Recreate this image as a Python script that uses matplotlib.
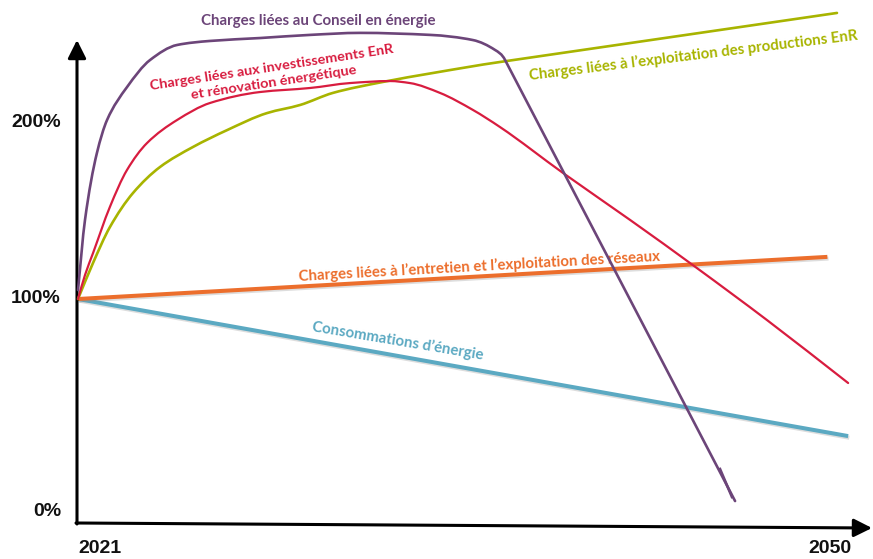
import matplotlib
matplotlib.use("Agg")
import matplotlib.pyplot as plt
import matplotlib.patheffects as pe
from matplotlib.path import Path
from matplotlib.patches import PathPatch

# --- data (years, % of 2021 level) ---
conseil_years = [2021.0, 2021.27, 2021.73, 2022.12, 2022.89, 2023.78, 2024.82, 2026.09,
                 2028.02, 2029.95, 2031.88, 2034.58, 2036.23, 2037.08, 2037.47, 2046.34]
conseil_vals = [104, 135.3, 165.2, 179.9, 194.6, 206.7, 213.4, 215.2,
                216.5, 217.9, 218.8, 217.9, 215.6, 211.2, 206.7, 9.8]
conseil_tail_years = [2045.76, 2046.22]
conseil_tail_vals = [24.1, 11.6]

invest_years = [2021.0, 2021.27, 2021.58, 2022.23, 2022.89, 2023.66, 2024.82, 2026.09,
                2028.02, 2029.95, 2031.49, 2033.03, 2033.80, 2034.96, 2036.23, 2037.27,
                2039.70, 2042.29, 2044.87, 2047.57, 2050.70]
invest_vals = [100, 110.7, 120.5, 141.1, 157.6, 169.6, 179.9, 187.5,
               192.4, 194.2, 196.4, 197.3, 196.4, 192.0, 184.4, 176.8,
               156.3, 135.3, 113.8, 90.6, 62.5]

enr_years = [2021.0, 2021.58, 2022.23, 2023.12, 2024.16, 2025.44, 2026.75, 2028.29,
             2029.56, 2030.83, 2032.76, 2034.69, 2037.27, 2050.27]
enr_vals = [100, 116.1, 132.1, 147.3, 158.9, 167.9, 175.4, 183.0,
            186.6, 192.0, 196.9, 200.9, 205.8, 227.7]

reseaux_years = [2021.0, 2049.9]
reseaux_vals = [100, 118.8]

conso_years = [2021.0, 2050.7]
conso_vals = [100, 38.8]

y_tick_labels = ["0%", "100%", "200%"]
y_tick_pos = [5, 100, 179]
x_tick_labels = ["2021", "2050"]
x_tick_pos = [2021, 2050]

# --- colours ---
c_purple = "#6C4579"
c_red = "#D81C3F"
c_green = "#A8B400"
c_orange = "#EC6E2C"
c_blue = "#5BA9C2"

W, H = 873, 559
fig = plt.figure(figsize=(W / 100, H / 100), dpi=100)
ax = fig.add_axes([0, 0, 1, 1])
ax.set_xlim(2017.992, 2051.659)
ax.set_ylim(-16.07, 233.48)
ax.axis("off")


def hermite_slopes(xs, ys):
    """Shape-preserving (Fritsch-Butland) slopes at each point."""
    n = len(xs)
    h = [xs[i + 1] - xs[i] for i in range(n - 1)]
    d = [(ys[i + 1] - ys[i]) / h[i] for i in range(n - 1)]
    m = [0.0] * n
    m[0] = d[0]
    m[-1] = d[-1]
    for k in range(1, n - 1):
        if d[k - 1] * d[k] <= 0:
            m[k] = 0.0
        else:
            w1 = 2 * h[k] + h[k - 1]
            w2 = h[k] + 2 * h[k - 1]
            m[k] = (w1 + w2) / (w1 / d[k - 1] + w2 / d[k])
    return m, d


def smooth_path(xs, ys, straight_last=False):
    """Piecewise cubic curve through the points, as Bezier segments."""
    m, d = hermite_slopes(xs, ys)
    n = len(xs)
    if straight_last:
        m[-2] = d[-1]
    verts = [(xs[0], ys[0])]
    codes = [Path.MOVETO]
    last = n - 2 if straight_last else n - 1
    for i in range(last):
        h = xs[i + 1] - xs[i]
        verts += [(xs[i] + h / 3, ys[i] + m[i] * h / 3),
                  (xs[i + 1] - h / 3, ys[i + 1] - m[i + 1] * h / 3),
                  (xs[i + 1], ys[i + 1])]
        codes += [Path.CURVE4] * 3
    if straight_last:
        verts.append((xs[-1], ys[-1]))
        codes.append(Path.LINETO)
    return Path(verts, codes)


def draw_curve(xs, ys, color, lw, z, straight_last=False):
    patch = PathPatch(smooth_path(xs, ys, straight_last), facecolor="none",
                      edgecolor=color, lw=lw, zorder=z, capstyle="round")
    ax.add_patch(patch)


shadow = [pe.SimpleLineShadow(offset=(0.8, -1.2), shadow_color="#909090", alpha=0.3),
          pe.Normal()]

ax.plot(conso_years, conso_vals, color=c_blue, lw=2.9, solid_capstyle="butt",
        path_effects=shadow, zorder=3)
ax.plot(reseaux_years, reseaux_vals, color=c_orange, lw=2.9, solid_capstyle="butt",
        path_effects=shadow, zorder=3)
draw_curve(enr_years, enr_vals, c_green, 1.9, 4, straight_last=True)
draw_curve(invest_years, invest_vals, c_red, 1.6, 4)
draw_curve(conseil_years, conseil_vals, c_purple, 1.9, 5, straight_last=True)
ax.plot(conseil_tail_years, conseil_tail_vals, color=c_purple, lw=1.9, zorder=5)

# --- axes drawn as arrows (figure pixels, origin bottom-left) ---
arrow_kw = dict(arrowstyle="-|>,head_length=1.0,head_width=0.5", color="black",
                lw=2.2, mutation_scale=11, shrinkA=0, shrinkB=0)
ax.annotate("", xy=(77, H - 40), xytext=(77, H - 524), xycoords="figure pixels",
            textcoords="figure pixels", arrowprops=arrow_kw)
ax.annotate("", xy=(872, H - 528), xytext=(76, H - 523), xycoords="figure pixels",
            textcoords="figure pixels", arrowprops=arrow_kw)

# --- tick labels ---
tick_font = dict(family="Liberation Sans", weight="bold", fontsize=14, color="#111111")
for lab, pos in zip(y_tick_labels, y_tick_pos):
    ax.text(2020.34, pos, lab, ha="right", va="center", **tick_font)
ax.text(x_tick_pos[0], -11.2, x_tick_labels[0], ha="left", va="center", **tick_font)
ax.text(x_tick_pos[1], -11.2, x_tick_labels[1], ha="center", va="center", **tick_font)

# --- series labels ---
lab_font = dict(family="Lato", weight="bold", fontsize=10.8, ha="center", va="center",
                rotation_mode="anchor", zorder=2)
ax.text(2030.26, 224.1, "Charges liées au Conseil en énergie", color=c_purple,
        **lab_font)
red_font = dict(lab_font, fontsize=10.4)
ax.text(2028.5, 200.0, "Charges liées aux investissements EnR\net rénovation énergétique",
        color=c_red, rotation=8.7, multialignment="center", linespacing=1.25, **red_font)
ax.text(2044.72, 208.5, "Charges liées à l’exploitation des productions EnR",
        color=c_green, rotation=7, **lab_font)
ax.text(2036.46, 114.3, "Charges liées à l’entretien et l’exploitation des réseaux",
        color=c_orange, rotation=3.2, **lab_font)
ax.text(2033.34, 81.25, "Consommations d’énergie", color=c_blue, rotation=-9.5,
        **lab_font)

fig.savefig("out.png", dpi=100, facecolor="white")
